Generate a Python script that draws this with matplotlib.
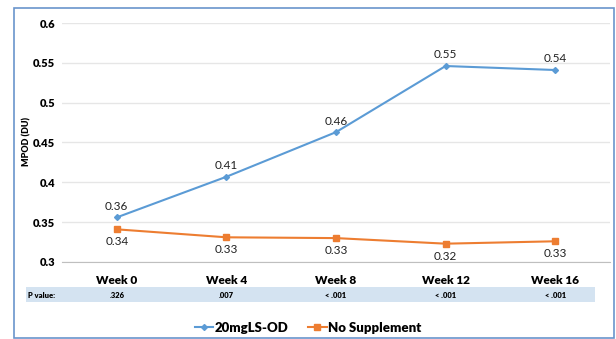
import matplotlib.pyplot as plt
from matplotlib.patches import Rectangle
from matplotlib.lines import Line2D

weeks = ['Week 0', 'Week 4', 'Week 8', 'Week 12', 'Week 16']
lsod = [0.356, 0.407, 0.463, 0.546, 0.541]
nosupp = [0.341, 0.331, 0.330, 0.323, 0.326]
pvals = ['.326', '.007', '< .001', '< .001', '< .001']

blue = '#5B9BD5'
orange = '#ED7D31'
plt.rcParams['font.family'] = ['Lato', 'DejaVu Sans']

fig = plt.figure(figsize=(6.16, 3.39), dpi=100)
W, H = 616, 339

# outer border
fig.patches.append(Rectangle((14/W, 1 - 338/H), 600/W, 330/H, transform=fig.transFigure,
                             fill=False, ec='#6a95cc', lw=1.2))

ax = fig.add_axes([62/W, 1 - 262/H, 548/W, 239/H])
x = range(len(weeks))
ax.plot(x, lsod, color=blue, lw=1.5, marker='D', ms=3)
ax.plot(x, nosupp, color=orange, lw=1.5, marker='s', ms=4.5)

for i, v in enumerate(lsod):
    ax.annotate(f'{v:.2f}', (i, v), xytext=(0, 8), textcoords='offset points',
                ha='center', va='center', fontsize=8.5, color='#222222')
for i, v in enumerate(nosupp):
    ax.annotate(f'{v:.2f}', (i, v), xytext=(0, -9), textcoords='offset points',
                ha='center', va='center', fontsize=8.5, color='#222222')

ax.set_xlim(-0.5, 4.5)
ax.set_ylim(0.3, 0.6)
ax.set_yticks([0.3, 0.35, 0.4, 0.45, 0.5, 0.55, 0.6])
ax.set_yticklabels(['0.3', '0.35', '0.4', '0.45', '0.5', '0.55', '0.6'],
                   fontsize=8, fontweight='heavy')
ax.set_xticks(list(x))
ax.set_xticklabels(weeks, fontsize=8.5, fontweight='heavy')
ax.tick_params(length=0, pad=5)
ax.tick_params(axis='x', pad=9)
ax.grid(axis='y', color='#e6e6e6', lw=1)
ax.set_axisbelow(True)
for s in ['top', 'right', 'left']:
    ax.spines[s].set_visible(False)
ax.spines['bottom'].set_color('#bfbfbf')
fig.text(27/W, 1 - 141/H, 'MPOD (DU)', fontsize=6.5, fontweight='heavy',
         rotation=90, ha='center', va='center')

# p value band
fig.patches.append(Rectangle((26/W, 1 - 302/H), 569/W, 15/H, transform=fig.transFigure,
                             color='#d4e3f1', lw=0))
fig.text(28/W, 1 - 295/H, 'P value:', fontsize=5.5, fontweight='heavy', va='center')
for i, p in enumerate(pvals):
    xf = (62 + 548 * (i + 0.5) / 5) / W
    fig.text(xf, 1 - 295/H, p, fontsize=5.5, fontweight='heavy', ha='center', va='center')

handles = [Line2D([], [], color=blue, lw=1.5, marker='D', ms=3),
           Line2D([], [], color=orange, lw=1.5, marker='s', ms=4.5)]
fig.legend(handles, ['20mgLS-OD', 'No Supplement'], loc='center', ncol=2,
           bbox_to_anchor=(0.5, 1 - 328/H), frameon=False, handlelength=1.4,
           handletextpad=0.1, columnspacing=1.5,
           prop={'size': 9.5, 'weight': 'heavy'})

fig.savefig('out.png', dpi=100)
